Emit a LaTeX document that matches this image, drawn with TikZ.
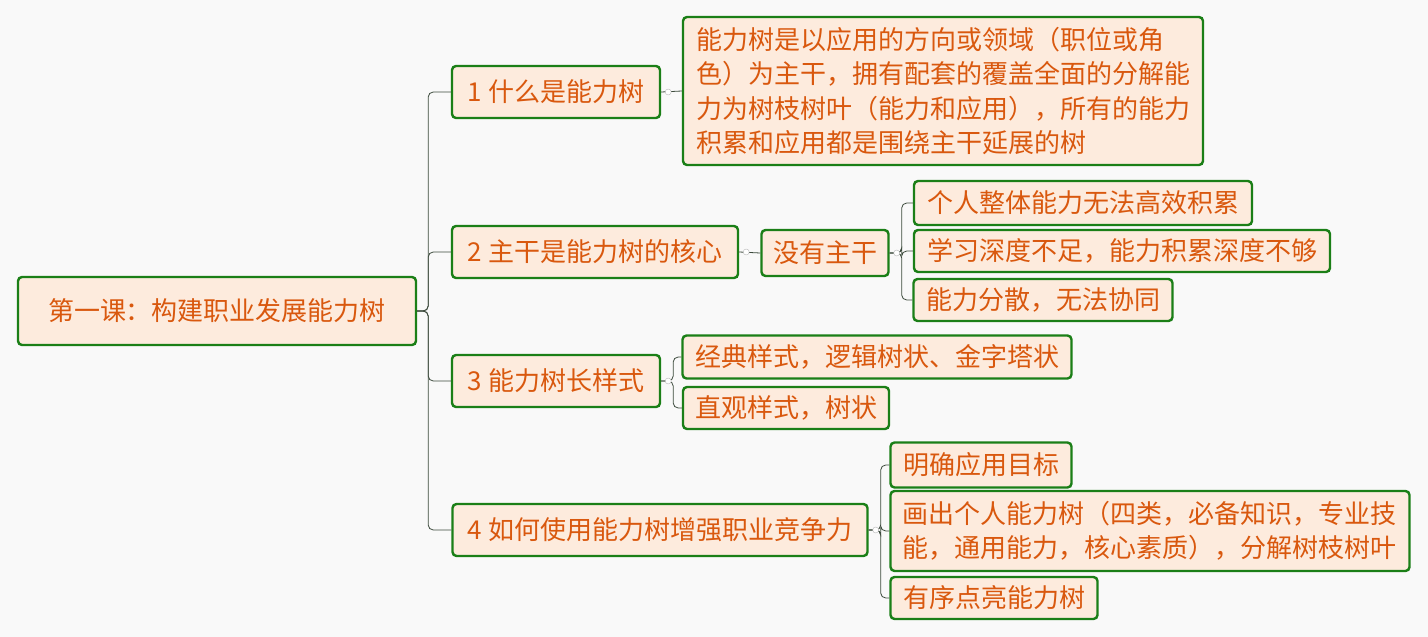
\documentclass[tikz,border=0pt]{standalone}
\usepackage{fontspec}
\setmainfont{Noto Sans CJK SC}
\definecolor{boxfill}{HTML}{FDEBDD}
\definecolor{boxline}{HTML}{1B7F17}
\definecolor{boxtext}{HTML}{D9580E}
\definecolor{wire}{HTML}{3C4A3C}
\tikzset{
  topic/.style={draw=boxline, line width=2.4pt, fill=boxfill, text=boxtext, rounded corners=4pt,
    font=\fontsize{26}{34.5}\selectfont, inner sep=0pt, minimum height=#1},
  topic/.default=44pt,
  link/.style={draw=wire, line width=0.8pt, rounded corners=5pt},
  knob/.style={draw=gray!55, fill=white, circle, inner sep=0pt, minimum size=6pt}
}
\begin{document}
\begin{tikzpicture}[x=1pt,y=-1pt]
  \useasboundingbox[fill=gray!5] (0,0) rectangle (1428,637);
  % main topics
  \node[topic=68pt, minimum width=398pt] (root) at (217,311) {第一课：构建职业发展能力树};
  \node[topic=52pt, minimum width=208pt] (n1) at (556,92) {1 什么是能力树};
  \node[topic=52pt, minimum width=286pt] (n2) at (595,252) {2 主干是能力树的核心};
  \node[topic=52pt, minimum width=208pt] (n3) at (556,381) {3 能力树长样式};
  \node[topic=52pt, minimum width=415pt] (n4) at (660,530) {4 如何使用能力树增强职业竞争力};
  % subtopics
  \node[topic=148pt, minimum width=520pt, text width=494pt, align=left] (d1) at (943,91)
    {能力树是以应用的方向或领域（职位或角\\色）为主干，拥有配套的覆盖全面的分解能\\力为树枝树叶（能力和应用），所有的能力\\积累和应用都是围绕主干延展的树};
  \node[topic=46pt, minimum width=127pt] (m2) at (825,253) {没有主干};
  \node[topic, minimum width=338pt] (c21) at (1083,203) {个人整体能力无法高效积累};
  \node[topic=42pt, minimum width=416pt] (c22) at (1122,251) {学习深度不足，能力积累深度不够};
  \node[topic=42pt, minimum width=259pt] (c23) at (1043,300) {能力分散，无法协同};
  \node[topic=43pt, minimum width=389pt] (c31) at (877,357) {经典样式，逻辑树状、金字塔状};
  \node[topic=42pt, minimum width=206pt] (c32) at (786,408) {直观样式，树状};
  \node[topic=45pt, minimum width=181pt] (c41) at (981,465) {明确应用目标};
  \node[topic=80pt, minimum width=519pt, text width=495pt, align=left] (c42) at (1150,531)
    {画出个人能力树（四类，必备知识，专业技\\能，通用能力，核心素质），分解树枝树叶};
  \node[topic=42pt, minimum width=207pt] (c43) at (994,598) {有序点亮能力树};
  % connectors
  \foreach \t in {n1,n2,n3,n4}
    \draw[link] (root.east) -- ++(11,0) |- (\t.west);
  \draw[link] (n1.east) -- (d1.west);
  \draw[link] (n2.east) -- (m2.west);
  \foreach \t in {c21,c22,c23}
    \draw[link] (m2.east) -- ++(12,0) |- (\t.west);
  \foreach \t in {c31,c32}
    \draw[link] (n3.east) -- ++(12,0) |- (\t.west);
  \foreach \t in {c41,c42,c43}
    \draw[link] (n4.east) -- ++(12,0) |- (\t.west);
  \foreach \p in {n1,n2,m2,n3,n4}
    \node[knob] at ([xshift=7pt]\p.east) {};
\end{tikzpicture}
\end{document}
